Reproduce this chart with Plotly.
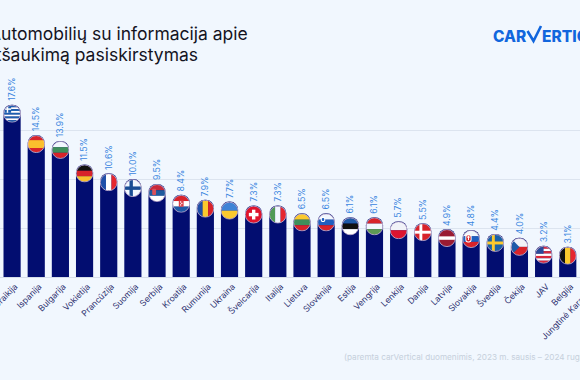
import base64
import plotly.graph_objects as go

countries = ["Graikija", "Ispanija", "Bulgarija", "Vokietija", "Prancūzija", "Suomija", "Serbija",
             "Kroatija", "Rumunija", "Ukraina", "Šveicarija", "Italija", "Lietuva", "Slovėnija",
             "Estija", "Vengrija", "Lenkija", "Danija", "Latvija", "Slovakija", "Švedija", "Čekija",
             "JAV", "Belgija", "Jungtinė Karalystė"]
values = [17.6, 14.5, 13.9, 11.5, 10.6, 10.0, 9.5, 8.4, 7.9, 7.7, 7.3, 7.3, 6.5, 6.5, 6.1, 6.1,
          5.7, 5.5, 4.9, 4.8, 4.4, 4.0, 3.2, 3.1, 2.9]
labels = [f"{v:.1f}%" for v in values]


def h(*cols):
    n = len(cols)
    return "".join(f'<rect x="0" y="{i*34/n}" width="34" height="{34/n+.2}" fill="{c}"/>' for i, c in enumerate(cols))


def v(*cols):
    n = len(cols)
    return "".join(f'<rect x="{i*34/n}" y="0" width="{34/n+.2}" height="34" fill="{c}"/>' for i, c in enumerate(cols))


flags = {
    "Graikija": h("#1c5fb0", "#fff", "#1c5fb0", "#fff", "#1c5fb0", "#fff", "#1c5fb0", "#fff", "#1c5fb0")
                + '<rect width="15" height="15" fill="#1c5fb0"/><rect x="6" width="3" height="15" fill="#fff"/><rect y="6" width="15" height="3" fill="#fff"/>',
    "Ispanija": '<rect width="34" height="34" fill="#d8232a"/><rect y="9" width="34" height="16" fill="#fbc02d"/>',
    "Bulgarija": h("#f1f7fe", "#3f8f5b", "#d8232a"),
    "Vokietija": h("#111", "#d8232a", "#fbc02d"),
    "Prancūzija": v("#1f4fa8", "#fff", "#e5262f"),
    "Suomija": '<rect width="34" height="34" fill="#f1f7fe"/><rect x="10" width="7" height="34" fill="#1a4d94"/><rect y="13.5" width="34" height="7" fill="#1a4d94"/>',
    "Serbija": h("#c8283a", "#1f5a9e", "#fff") + '<rect x="7" y="8" width="8" height="13" rx="2" fill="#d9505a"/>',
    "Kroatija": h("#d8232a", "#fff", "#1f5aa8") + '<rect x="12" y="10" width="10" height="13" fill="#d8404a"/><rect x="14.5" y="12" width="2.5" height="2.5" fill="#fff"/><rect x="17" y="15" width="2.5" height="2.5" fill="#fff"/><rect x="14.5" y="18" width="2.5" height="2.5" fill="#fff"/>',
    "Rumunija": v("#1f4fa8", "#fbc92d", "#d8232a"),
    "Ukraina": h("#3f83d6", "#fbc92d"),
    "Šveicarija": '<rect width="34" height="34" fill="#e0142c"/><rect x="13.5" y="7" width="7" height="20" fill="#fff"/><rect x="7" y="13.5" width="20" height="7" fill="#fff"/>',
    "Italija": v("#4f9a55", "#f1f7fe", "#e5262f"),
    "Lietuva": h("#fbc92d", "#3f8f5b", "#d8232a"),
    "Slovėnija": h("#f1f7fe", "#1f5fc0", "#d8232a") + '<rect x="6" y="6" width="9" height="10" rx="3" fill="#fff"/><rect x="8" y="8" width="5" height="6" rx="2" fill="#1f5fc0"/>',
    "Estija": h("#1f5aa8", "#111", "#fff"),
    "Vengrija": h("#d8232a", "#f1f7fe", "#5f9a55"),
    "Lenkija": h("#f1f3f8", "#dc1430"),
    "Danija": '<rect width="34" height="34" fill="#d8232a"/><rect x="10" width="6" height="34" fill="#fff"/><rect y="14" width="34" height="6" fill="#fff"/>',
    "Latvija": '<rect width="34" height="34" fill="#9a1b32"/><rect y="13.5" width="34" height="7" fill="#fff"/>',
    "Slovakija": h("#f1f7fe", "#1f5fc0", "#d8232a") + '<rect x="5" y="7" width="13" height="17" rx="5" fill="#fff"/><rect x="7" y="9" width="9" height="13" rx="4" fill="#d8232a"/><rect x="10.5" y="10" width="2" height="9" fill="#fff"/><rect x="8.5" y="12" width="6" height="2" fill="#fff"/>',
    "Švedija": '<rect width="34" height="34" fill="#1a62a8"/><rect x="10" width="6" height="34" fill="#fbc92d"/><rect y="14" width="34" height="6" fill="#fbc92d"/>',
    "Čekija": '<rect width="34" height="17" fill="#f1f3f8"/><rect y="17" width="34" height="17" fill="#d8232a"/><path d="M0 0 L17 17 L0 34 Z" fill="#1f5aa8"/>',
    "JAV": h("#d8283c", "#fff", "#d8283c", "#fff", "#d8283c", "#fff", "#d8283c") + '<rect width="17" height="15" fill="#2a4a9a"/>',
    "Belgija": v("#111", "#fbc92d", "#e5262f"),
    "Jungtinė Karalystė": h("#1f3f8f"),
}


def flag_uri(body):
    svg = ('<svg xmlns="http://www.w3.org/2000/svg" viewBox="-1.5 -1.5 37 37" width="74" height="74">'
           '<defs><clipPath id="c"><circle cx="17" cy="17" r="17"/></clipPath></defs>'
           f'<g clip-path="url(#c)">{body}</g>'
           '<circle cx="17" cy="17" r="17.4" fill="none" stroke="#f3d9e6" stroke-width="1.4"/></svg>')
    return "data:image/svg+xml;base64," + base64.b64encode(svg.encode()).decode()


W, H, L, T, B = 604, 380, 0, 81, 103
plot_h = H - T - B


def px(x):
    return (x - L) / (W - L)


def py(y):
    return (H - B - y) / plot_h


fig = go.Figure(go.Bar(
    x=countries, y=values, cliponaxis=False,
    marker=dict(color="#020d70", line=dict(width=0)), hoverinfo="skip"))

images = [dict(source=flag_uri(flags[c]), xref="x", yref="y", x=c, y=val, xanchor="center",
               yanchor="top", sizex=0.74, sizey=1.85, sizing="stretch", layer="above")
          for c, val in zip(countries, values)]

value_labels = [dict(text=t, xref="x", yref="y", x=c, y=val, textangle=-90, yanchor="bottom", xanchor="center",
                     yshift=1.5, showarrow=False, font=dict(size=8.6, color="#3a86e0", family="Inter"))
                for c, val, t in zip(countries, values, labels)]

ink = "#14141f"
logo = "#1166dd"
ann = [
    dict(text="Automobilių su informacija apie", x=px(-13), y=py(34), font=dict(size=17.5, color=ink)),
    dict(text="atšaukimą pasiskirstymas", x=px(-16), y=py(55), font=dict(size=17.5, color=ink)),
    dict(text="CAR", x=px(491), y=py(36), font=dict(size=15.5, color=logo, weight=800)),
    dict(text="ERTICAL", x=px(540), y=py(36), font=dict(size=15.5, color=logo, weight=800)),
    dict(text="(paremta carVertical duomenimis, 2023 m. sausis – 2024 rugpjūtis)", x=px(342), y=py(356.5),
         font=dict(size=8.2, color="#c6d0dc")),
]
for a in ann:
    a.update(xref="paper", yref="paper", xanchor="left", yanchor="middle", showarrow=False)
    a["font"]["family"] = "Inter"

check = [dict(type="path", xref="paper", yref="paper",
              path=f"M {px(527.5)} {py(31)} L {px(533.5)} {py(41)} L {px(541)} {py(26)}",
              line=dict(color=logo, width=2.6), layer="above")]

fig.update_layout(
    width=W, height=H, margin=dict(l=L, r=0, t=T, b=B, pad=0), autosize=False,
    paper_bgcolor="#f1f7fe", plot_bgcolor="#f1f7fe", showlegend=False, bargap=0.29,
    barcornerradius=8, images=images, annotations=value_labels + ann, shapes=check,
    font=dict(family="Inter"),
    xaxis=dict(type="category", categoryorder="array", categoryarray=countries, range=[-0.5, 24.5],
               tickangle=-45, tickfont=dict(size=8.5, color="#2c2f6e", family="Inter"), ticks="",
               ticklabelstandoff=2, ticklabelshift=3,
               showgrid=False, showline=False, zeroline=False, automargin=False),
    yaxis=dict(range=[0, 20.02], dtick=5, showticklabels=False, ticks="", gridcolor="#dce4ef", gridwidth=1,
               zeroline=True, zerolinecolor="#d5dde9", zerolinewidth=1, showline=False, automargin=False),
)

fig.write_html("out.html", config=dict(displayModeBar=False),
               post_script="document.body.style.margin='0';document.documentElement.style.overflow='hidden';document.body.style.overflow='hidden';")
